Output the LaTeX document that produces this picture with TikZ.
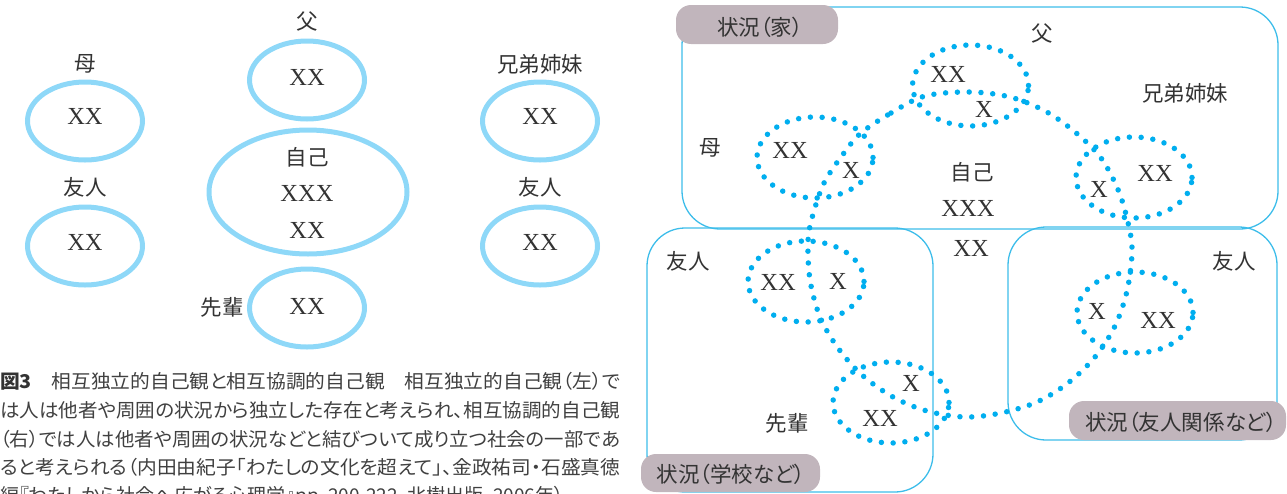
\documentclass[tikz,border=0pt]{standalone}
\usepackage{graphicx}
\usepackage{fontspec}
\setmainfont{Liberation Serif}
\newfontfamily\jp{Noto Sans CJK JP}
\newfontfamily\jpp[RawFeature=+palt]{Noto Sans CJK JP}
\usetikzlibrary{shapes.geometric}
\definecolor{solidblue}{HTML}{8ED8F8}
\definecolor{dotblue}{HTML}{00AEEF}
\definecolor{boxblue}{HTML}{3DBDEA}
\definecolor{tabgray}{HTML}{C1B5BC}
\definecolor{ink}{HTML}{333333}
\definecolor{capink}{HTML}{404040}
\begin{document}
\begin{tikzpicture}[x=1pt,y=1pt,
  solidell/.style={ellipse, draw=solidblue, line width=5pt, inner sep=0pt,
    minimum width=115pt, minimum height=78pt},
  dotell/.style={ellipse, draw=dotblue, line width=5.5pt, line cap=round,
    dash pattern=on 0pt off 11.8pt, inner sep=0pt,
    minimum width=116pt, minimum height=81pt},
  dotpath/.style={draw=dotblue, line width=5.5pt, line cap=round,
    dash pattern=on 0pt off 11.8pt},
  xtext/.style={font=\fontsize{24.5pt}{28pt}\selectfont, text=ink, inner sep=0pt},
  jlabel/.style={font=\jp\fontsize{21.5pt}{24pt}\selectfont, text=ink, inner sep=0pt},
  sitbox/.style={draw=boxblue, line width=1.3pt, rounded corners=38pt},
  tabbox/.style={fill=tabgray, rounded corners=15pt},
  tabtext/.style={font=\jpp\fontsize{21.5pt}{24pt}\selectfont, text=ink, inner sep=0pt},
  capline/.style={anchor=base west, inner sep=0pt, text=capink,
    font=\jpp\fontsize{19pt}{24pt}\selectfont}
]
\useasboundingbox (0,0) rectangle (1287,-493);

% ---------------- left diagram ----------------
\node[solidell] (Lmother) at (85,-121) {};
\node[solidell] (Lfriend1) at (85,-246) {};
\node[solidell] (Lfather) at (307,-80) {};
\node[solidell, minimum width=198pt, minimum height=124pt] (Lself) at (308,-192) {};
\node[solidell] (Lsenior) at (307,-308) {};
\node[solidell] (Lsib) at (540,-121) {};
\node[solidell] (Lfriend2) at (540,-246) {};

\node[jlabel] (Lmotherlab) at (85,-64) {母};
\node[jlabel] (Lfriend1lab) at (85,-187) {友人};
\node[jlabel] (Lfatherlab) at (307,-21) {父};
\node[jlabel] (Lsiblab) at (540,-64) {兄弟姉妹};
\node[jlabel] (Lfriend2lab) at (540,-187) {友人};
\node[jlabel] (Lseniorlab) at (222,-307) {先輩};
\node[jlabel] (Lselflab) at (307,-157) {自己};

\node[xtext] (Lmotherxx) at (85,-116) {XX};
\node[xtext] (Lfriend1xx) at (85,-242) {XX};
\node[xtext] (Lfatherxx) at (307,-77) {XX};
\node[xtext] (Lselfxxx) at (307,-193) {XXX};
\node[xtext] (Lselfxx) at (307,-230) {XX};
\node[xtext] (Lseniorxx) at (307,-306) {XX};
\node[xtext] (Lsibxx) at (540,-116) {XX};
\node[xtext] (Lfriend2xx) at (540,-242) {XX};

% ---------------- caption ----------------
\node[capline] (cap1) at (0,-388) {\resizebox{620pt}{\height}{{\bfseries\color{ink}図3}　相互独立的自己観と相互協調的自己観　相互独立的自己観（左）で}};
\node[capline] (cap2) at (0,-417) {\resizebox{620pt}{\height}{は人は他者や周囲の状況から独立した存在と考えられ、相互協調的自己観}};
\node[capline] (cap3) at (0,-446) {\resizebox{620pt}{\height}{（右）では人は他者や周囲の状況などと結びついて成り立つ社会の一部であ}};
\node[capline] (cap4) at (0,-474) {\resizebox{620pt}{\height}{ると考えられる（内田由紀子「わたしの文化を超えて」、金政祐司・石盛真徳}};
\node[capline] (cap5) at (0,-502) {編『わたしから社会へ広がる心理学』pp.~200-222、北樹出版、2006年）};

% ---------------- right diagram ----------------
\draw[sitbox] (682,-7) rectangle (1278,-229);
\draw[sitbox] (647,-228) rectangle (933,-492);
\draw[sitbox] (1008,-227) rectangle (1277,-440);

\path[tabbox] (676,-5) rectangle (838,-44);
\path[tabbox] (641,-454) rectangle (820,-492);
\path[tabbox] (1069,-401) rectangle (1286,-440);
\node[tabtext] (tabhome) at (760,-27) {状況（家）};
\node[tabtext] (tabschool) at (731,-474) {状況（学校など）};
\node[tabtext] (tabfriend) at (1181,-422) {状況（友人関係など）};

\node[dotell] (Rfather) at (970.5,-85.5) {};
\node[dotell] (Rmother) at (815,-157.5) {};
\node[dotell] (Rsib) at (1134,-177.5) {};
\node[dotell] (Rfriend1) at (806,-281.5) {};
\node[dotell] (Rsenior) at (891,-402.5) {};
\node[dotell] (Rfriend2) at (1135,-312.5) {};

\draw[dotpath] plot[smooth cycle, tension=0.55] coordinates {
 (861,-133) (891,-113) (925,-96) (970,-92) (1010,-97) (1045,-111)
 (1075,-132) (1101,-158) (1119,-192) (1129,-227) (1132,-253) (1127,-291)
 (1115,-326) (1095,-357) (1068,-383) (1037,-402) (1001,-413) (965,-417)
 (927,-411) (893,-397) (862,-375) (838,-348) (820,-317) (810,-280)
 (808,-242) (812,-218) (824,-183) (844,-153)};

\node[jlabel] (Rfatherlab) at (1042,-33) {父};
\node[jlabel] (Rsiblab) at (1185,-93) {兄弟姉妹};
\node[jlabel] (Rmotherlab) at (710,-148) {母};
\node[jlabel] (Rselflab) at (972,-172) {自己};
\node[jlabel] (Rfriend1lab) at (688,-261) {友人};
\node[jlabel] (Rfriend2lab) at (1234,-261) {友人};
\node[jlabel] (Rseniorlab) at (787,-423) {先輩};

\node[xtext] (Rfatherxx) at (948,-74) {XX};
\node[xtext] (Rfatherx) at (984,-109) {X};
\node[xtext] (Rmotherxx) at (790,-150) {XX};
\node[xtext] (Rmotherx) at (851,-170) {X};
\node[xtext] (Rsibxx) at (1155,-173) {XX};
\node[xtext] (Rsibx) at (1099,-189) {X};
\node[xtext] (Rselfxxx) at (968,-208) {XXX};
\node[xtext] (Rselfxx) at (971,-248) {XX};
\node[xtext] (Rfriend1xx) at (778,-282) {XX};
\node[xtext] (Rfriend1x) at (838,-281) {X};
\node[xtext] (Rseniorx) at (911,-383) {X};
\node[xtext] (Rseniorxx) at (880,-418) {XX};
\node[xtext] (Rfriend2x) at (1097,-311) {X};
\node[xtext] (Rfriend2xx) at (1158,-320) {XX};
\end{tikzpicture}
\end{document}
